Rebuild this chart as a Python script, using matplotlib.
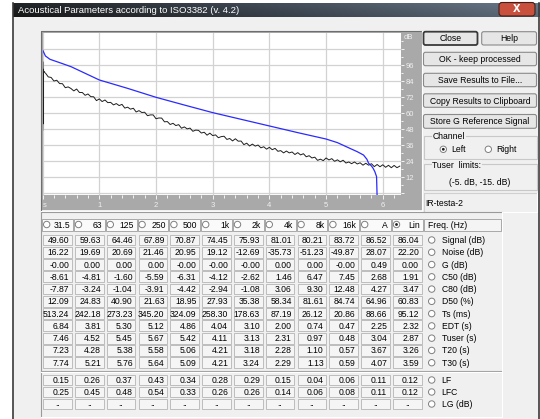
"""ISO3382 acoustical parameters dialog: decay curves plus result table"""

import numpy as np
import matplotlib
matplotlib.use("Agg")
import matplotlib.pyplot as plt
import matplotlib.font_manager as fm
from matplotlib.patches import Rectangle, Circle, FancyBboxPatch

# narrow sans is closest to the old MS Sans Serif dialog font
_names = {f.name for f in fm.fontManager.ttflist}
if "Liberation Sans Narrow" in _names:
    UI_FONT, FS = "Liberation Sans Narrow", 7.2
else:
    UI_FONT, FS = "Liberation Sans", 6.2
plt.rcParams["font.family"] = [UI_FONT, "DejaVu Sans"]

W, H = 540, 419

# ---- decay curves (time in s, level in dB) ----
blue_t = [0.0, 0.05, 0.13, 0.3, 0.5, 1.0, 1.5, 2.0, 2.5, 3.0, 3.5, 4.0, 4.5, 5.0,
          5.2, 5.42, 5.55, 5.66, 5.72, 5.75, 5.8, 5.83, 5.86, 5.89, 5.9]
blue_db = [107.5, 103.0, 100.5, 98.0, 95.0, 85.0, 78.7, 72.0, 66.2, 60.5, 55.5, 50.5,
           45.5, 40.7, 38.0, 33.7, 31.2, 28.7, 25.5, 22.5, 20.5, 18.7, 16.2, 12.5, -3.0]

# direct sound spike at the start
spike_t = [0.0, 0.0, 0.004, 0.004, 0.01, 0.02, 0.03]
spike_db = [47.5, 98.7, 52.0, 74.0, 93.0, 90.5, 91.0]

dt = 0.05  # sample step of the decay below
decay_db = [
    90.2, 87.3, 86.9, 84.2, 84.8, 82.3, 82.2, 79.2, 79.8, 78.6,
    76.8, 78.2, 75.6, 75.6, 73.5, 74.5, 72.5, 72.4, 69.5, 70.8,
    68.8, 70.0, 68.0, 68.2, 66.3, 67.3, 65.8, 66.7, 63.9, 64.6,
    63.1, 63.8, 61.0, 62.0, 60.6, 60.8, 58.2, 58.8, 58.8, 55.9,
    56.5, 56.4, 53.6, 53.8, 51.6, 52.5, 50.8, 51.5, 48.8, 49.8,
    48.3, 48.9, 46.5, 47.4, 47.2, 45.2, 45.8, 43.6, 45.1, 43.3,
    43.8, 41.7, 42.5, 42.8, 40.4, 41.1, 39.3, 40.9, 39.1, 39.2,
    36.5, 37.6, 35.5, 36.9, 35.4, 36.2, 34.1, 34.9, 33.1, 34.5,
    32.7, 33.7, 31.5, 32.0, 30.3, 31.7, 30.3, 31.0, 29.1, 30.5,
    28.8, 29.7, 27.4, 28.2, 26.5, 27.1, 24.7, 25.6, 24.5, 26.5,
    25.0, 26.0, 24.0, 25.1, 23.6, 24.8, 22.7, 23.5, 22.2, 23.5,
    22.0, 22.9, 21.1, 22.5, 21.1, 22.2, 20.0, 21.6, 19.9, 21.4,
    19.5, 21.0, 19.2, 20.9, 19.2, 20.4,
]
decay_t = dt * np.arange(1, len(decay_db) + 1)

# ---- result table ----
bands = ["31.5", "63", "125", "250", "500", "1k", "2k", "4k", "8k", "16k", "A", "Lin"]
param_names = ["Signal (dB)", "Noise (dB)", "G (dB)", "C50 (dB)", "C80 (dB)", "D50 (%)",
               "Ts (ms)", "EDT (s)", "Tuser (s)", "T20 (s)", "T30 (s)", "LF", "LFC", "LG (dB)"]
signal_db = [49.60, 59.63, 64.46, 67.89, 70.87, 74.45, 75.93, 81.01, 80.21, 83.72, 86.52, 86.04]
noise_db = [16.22, 19.69, 20.69, 21.46, 20.95, 19.12, -12.69, -35.73, -51.23, -49.87, 28.07, 22.20]
g_db = [-0.0, 0.00, 0.00, 0.00, -0.0, -0.0, -0.0, 0.00, 0.00, -0.0, 0.49, 0.00]
c50_db = [-8.61, -4.81, -1.60, -5.59, -6.31, -4.12, -2.62, 1.46, 6.47, 7.45, 2.68, 1.91]
c80_db = [-7.87, -3.24, -1.04, -3.91, -4.42, -2.94, -1.08, 3.06, 9.30, 12.48, 4.27, 3.47]
d50_pct = [12.09, 24.83, 40.90, 21.63, 18.95, 27.93, 35.38, 58.34, 81.61, 84.74, 64.96, 60.83]
ts_ms = [513.24, 242.18, 273.23, 345.20, 324.09, 258.30, 178.63, 87.19, 26.12, 20.86, 88.66, 95.12]
edt_s = [6.84, 3.81, 5.30, 5.12, 4.86, 4.04, 3.10, 2.00, 0.74, 0.47, 2.25, 2.32]
tuser_s = [7.46, 4.52, 5.45, 5.67, 5.42, 4.11, 3.13, 2.31, 0.97, 0.48, 3.04, 2.87]
t20_s = [7.23, 4.28, 5.38, 5.58, 5.06, 4.21, 3.18, 2.28, 1.10, 0.57, 3.67, 3.26]
t30_s = [7.74, 5.21, 5.76, 5.64, 5.09, 4.21, 3.24, 2.29, 1.13, 0.59, 4.07, 3.59]
lf = [0.15, 0.26, 0.37, 0.43, 0.34, 0.28, 0.29, 0.15, 0.04, 0.06, 0.11, 0.12]
lfc = [0.25, 0.45, 0.48, 0.54, 0.33, 0.26, 0.26, 0.14, 0.06, 0.08, 0.11, 0.12]
lg_db = [None] * 12
rows = [signal_db, noise_db, g_db, c50_db, c80_db, d50_pct, ts_ms, edt_s,
        tuser_s, t20_s, t30_s, lf, lfc, lg_db]

BG = "#f0f0f0"

fig = plt.figure(figsize=(W / 100, H / 100), dpi=100)
fig.patch.set_facecolor("white")
ui = fig.add_axes([0, 0, 1, 1])
ui.axis("off")


def box(x0, y0, x1, y1, fc, ec="none", lw=0.8, z=1):
    ui.add_patch(Rectangle((x0, y0), x1 - x0, y1 - y0, facecolor=fc,
                           edgecolor=ec, lw=lw, zorder=z))


def sunken(x0, y0, x1, y1, fc, dark="#a0a0a0", z=1):
    box(x0, y0, x1, y1, fc, z=z)
    ui.plot([x0, x0, x1], [y1, y0, y0], color=dark, lw=0.8, zorder=z + 0.1)
    ui.plot([x1, x1, x0], [y0, y1, y1], color="white", lw=0.8, zorder=z + 0.1)


def radio(x, y, on=False):
    ui.add_patch(Circle((x, y), 3.2, facecolor="white", edgecolor="#7f7f7f",
                        lw=0.7, zorder=4))
    if on:
        ui.add_patch(Circle((x, y), 1.4, facecolor="#202020", edgecolor="none", zorder=5))


def button(x0, y0, x1, y1, label, default=False):
    ui.add_patch(FancyBboxPatch((x0, y0), x1 - x0, y1 - y0,
                                boxstyle="round,pad=0,rounding_size=2",
                                facecolor="#e6e6e6",
                                edgecolor="#3a3a3a" if default else "#8a8a8a",
                                lw=1.3 if default else 0.8, zorder=3))
    ui.text((x0 + x1) / 2, (y0 + y1) / 2 + 0.5, label, ha="center", va="center",
            fontsize=FS, color="black", zorder=4)


def group(x0, y0, x1, y1, label):
    ui.add_patch(Rectangle((x0, y0), x1 - x0, y1 - y0, facecolor="none",
                           edgecolor="#c8c8c8", lw=0.8, zorder=2))
    ui.text(x0 + 9, y0 + 1, label, ha="left", va="center", fontsize=FS,
            zorder=4, bbox=dict(facecolor=BG, edgecolor="none", pad=0.6))


# window frame and title bar
box(12.5, 3, 539, H, BG, z=0.5)
grad = np.linspace(0, 1, 256)[None, :] * np.ones((12, 1))
grad = grad * 0.85 + np.linspace(0.15, 0, 12)[:, None]
ui.imshow(grad, cmap=matplotlib.colors.LinearSegmentedColormap.from_list(
    "tb", ["#161616", "#3c4550", "#6a7888"]), extent=(12.5, 539, 17, 3),
    aspect="auto", zorder=1, interpolation="bilinear")
ui.plot([12.5, 12.5], [3, H], color="#3a3a3a", lw=1.2, zorder=2)
ui.plot([538.5, 538.5], [3, H], color="#3a3a3a", lw=1.2, zorder=2)
ui.text(18, 10.5, "Acoustical Parameters according to ISO3382 (v. 4.2)",
        ha="left", va="center", fontsize=FS + 0.6, color="white", zorder=3)
ui.add_patch(FancyBboxPatch((499, 2.5), 36, 13.5, boxstyle="round,pad=0,rounding_size=3",
                            facecolor="#c8503c", edgecolor="#40201a", lw=0.8, zorder=3))
ui.text(517, 9.5, "X", ha="center", va="center", fontsize=7, fontweight="bold",
        color="white", family="DejaVu Sans", zorder=4)

# chart frame with grey scale strips
sunken(40.5, 31.5, 421.5, 210.5, "#a9a9a9", dark="#6e6e6e", z=1)

# buttons and controls on the right
button(423.5, 31.7, 477.5, 45, "Close", default=True)
button(481.7, 31.7, 536.5, 45, "Help")
button(423.5, 52.3, 536.5, 65.7, "OK - keep processed")
button(423.5, 73.3, 536.5, 86.7, "Save Results to File...")
button(423.5, 93.8, 536.5, 107.3, "Copy Results to Clipboard")
button(423.5, 114.5, 536.5, 128.3, "Store G Reference Signal")
group(423.5, 135.5, 536.5, 158.5, "Channel")
radio(443.3, 149.3, on=True)
ui.text(451, 149.8, "Left", ha="left", va="center", fontsize=FS)
radio(488.3, 149.3)
ui.text(496, 149.8, "Right", ha="left", va="center", fontsize=FS)
group(423.5, 164.5, 536.5, 190, "Tuser  limits:")
ui.text(480, 182.5, "(-5. dB, -15. dB)", ha="center", va="center", fontsize=FS)
sunken(423.5, 193, 536.5, 211.5, BG, dark="#d0d0d0")
ui.text(425, 203, "IR-testa-2", ha="left", va="center", fontsize=FS)

# table
sunken(40.5, 212, 502, 416.5, BG, dark="#9a9a9a")
col_w = 31.8
col_x = [41.7 + i * col_w for i in range(len(bands))]
for i, b in enumerate(bands):
    x0 = col_x[i]
    box(x0 + 0.5, 218.5, x0 + col_w - 0.5, 230.5, "#fafafa", ec="#a8a8a8", lw=0.7, z=2)
    radio(x0 + 5, 224.5, on=(b == "Lin"))
    ui.text(x0 + 28.5, 225, b, ha="right", va="center", fontsize=FS, zorder=4)
box(423.5, 218.5, 500.5, 230.5, "#f4f4f4", ec="#a8a8a8", lw=0.7, z=2)
ui.text(428, 225, "Freq. (Hz)", ha="left", va="center", fontsize=FS, zorder=4)

row_y = [240 + 12.27 * r for r in range(11)] + [380 + 12 * r for r in range(3)]
for r, (vals, name) in enumerate(zip(rows, param_names)):
    y = row_y[r]
    for i, v in enumerate(vals):
        x0 = col_x[i] + 1.5
        box(x0, y - 5.4, x0 + 28.5, y + 5.4, "#f5f5f5", ec="#b4b4b4", lw=0.6, z=2)
        if v is None:
            ui.text(x0 + 14.2, y - 0.5, "..", ha="center", va="center",
                    fontsize=FS, zorder=4)
        else:
            ui.text(x0 + 26, y + 0.5, f"{v:.2f}", ha="right", va="center",
                    fontsize=FS, zorder=4)
    radio(431.7, y)
    ui.text(441.5, y + 0.5, name, ha="left", va="center", fontsize=FS, zorder=4)
ui.plot([41, 501], [371.2, 371.2], color="#a0a0a0", lw=0.8, zorder=3)
ui.plot([41, 501], [372.2, 372.2], color="white", lw=0.8, zorder=3)

ui.set_xlim(0, W)
ui.set_ylim(H, 0)

# ---- the decay plot itself ----
px_per_s = 56.7
px_per_db = 16 / 12
left, right, top, bottom = 42.6, 401.0, 33.3, 195.5
ax = fig.add_axes([left / W, 1 - bottom / H, (right - left) / W, (bottom - top) / H])
ax.set_facecolor("white")
ax.set_xlim(0, (right - left) / px_per_s)
ax.set_ylim(-(bottom - 193.3) / px_per_db, 120)
for s in ax.spines.values():
    s.set_visible(False)

ax.plot(spike_t, spike_db, color="#1e1e1e", lw=0.9)
ax.plot(decay_t, decay_db, color="#1e1e1e", lw=0.7)
ax.plot(blue_t, blue_db, color="#2a2aff", lw=0.9)

ax.set_xticks(range(7))
ax.set_xticklabels(["s", "1", "2", "3", "4", "5", "6"])
ax.get_xticklabels()[0].set_ha("left")
ax.set_xticks(np.arange(0, 6.4, 0.2), minor=True)
ax.set_yticks(range(0, 120, 12))
ax.set_yticklabels([""] + [str(v) for v in range(12, 108, 12)] + [""])
ax.set_yticks(range(6, 120, 12), minor=True)
ax.yaxis.tick_right()
ax.grid(True, which="major", color="#d2d2d2", lw=0.9)
ax.set_axisbelow(True)
ax.tick_params(axis="x", which="major", direction="out", length=3, width=0.6,
               color="white", labelcolor="#f0f0f0", labelsize=5.5, pad=1.5)
ax.tick_params(axis="x", which="minor", direction="out", length=2, width=0.6, color="white")
ax.tick_params(axis="y", which="major", direction="out", length=2.5, width=0.6,
               color="white", labelcolor="#f0f0f0", labelsize=5.5, pad=1)
ax.tick_params(axis="y", which="minor", direction="out", length=1.5, width=0.6, color="white")
ax.text(1.006, 116.5, "dB", transform=ax.get_yaxis_transform(), ha="left",
        va="center", fontsize=5.5, color="#f0f0f0", clip_on=False)

fig.savefig("out.png", dpi=100)
